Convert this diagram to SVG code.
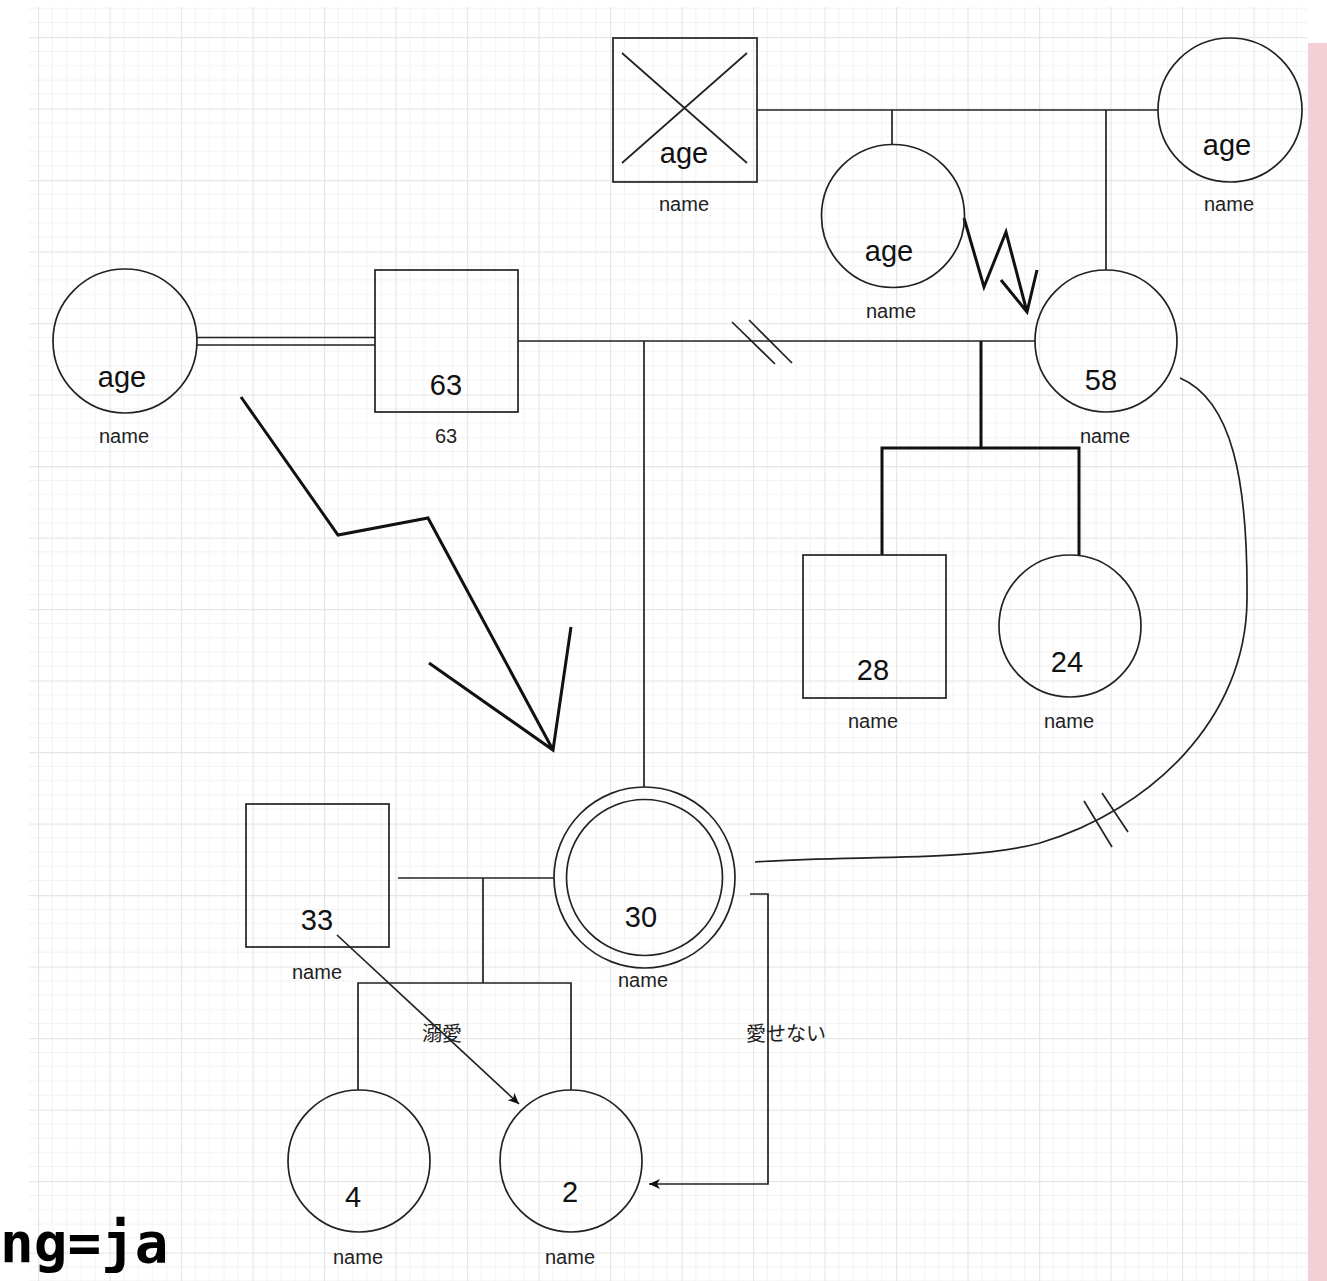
<svg xmlns="http://www.w3.org/2000/svg" width="1327" height="1281" viewBox="0 0 1327 1281">
<style>
.n{fill:none;stroke:#222;stroke-width:1.7}
.c{fill:none;stroke:#222;stroke-width:1.7}
.thick{fill:none;stroke:#111;stroke-width:3}
.big{font-family:"Liberation Sans",Arial,sans-serif;font-size:29px;fill:#111;text-anchor:middle}
.lbl{font-family:"Liberation Sans",Arial,sans-serif;font-size:20px;fill:#222;text-anchor:middle}
.jp{font-family:"Noto Sans CJK JP","Noto Sans",sans-serif;font-size:20px;fill:#222;text-anchor:middle}
</style>
<defs>
<pattern id="grid" x="38" y="37" width="71.5" height="71.5" patternUnits="userSpaceOnUse">
<path d="M14.3 0V71.5M28.6 0V71.5M42.9 0V71.5M57.2 0V71.5M0 14.3H71.5M0 28.6H71.5M0 42.9H71.5M0 57.2H71.5" stroke="#f2f2f2" stroke-width="1" fill="none"/>
<path d="M0.5 0V71.5M0 0.5H71.5" stroke="#e6e6e6" stroke-width="1.4" fill="none"/>
</pattern>
<marker id="arr" viewBox="0 0 12 12" refX="11" refY="6" markerWidth="12" markerHeight="12" markerUnits="userSpaceOnUse" orient="auto">
<path d="M0,1 L11,6 L0,11 L3,6 Z" fill="#111"/>
</marker>
</defs>
<rect x="0" y="0" width="1327" height="1281" fill="#ffffff"/>
<rect x="29" y="7" width="1279" height="1274" fill="url(#grid)"/>
<rect x="1308" y="43" width="19" height="1238" fill="#f3d0d6"/>

<g id="connectors">
<path class="c" d="M757,110 H1158"/>
<path class="c" d="M892,110 V145"/>
<path class="c" d="M1106,110 V270"/>
<path class="c" d="M197,337.5 H375 M197,345 H375"/>
<path class="c" d="M518,341 H1035"/>
<path class="c" d="M732,322 L775,364 M749,320 L792,363"/>
<path class="c" d="M644,341 V787"/>
<path class="thick" d="M981,341 V448 M882,555 V448 H1079 V555"/>
<path class="c" d="M1180,378 C1232,400 1248,480 1247,600 C1246,720 1150,810 1040,843 C970,862 850,855 755,862"/>
<path class="c" d="M1084,801 L1112,847 M1102,793 L1128,832"/>
<path class="thick" d="M964,218 L984,287 L1006,232 L1027,312 M1001,280 L1027,312 L1037,270"/>
<path class="thick" d="M241,397 L338,535 L428,518 L553,750 M429,663 L553,750 L571,627"/>
<path class="c" d="M398,878 H554"/>
<path class="c" d="M483,878 V983 M358,1090 V983 H571 V1090"/>
<path class="c" d="M337,935 L519,1104" marker-end="url(#arr)"/>
<path class="c" d="M750,894 H768 V1184 H649" marker-end="url(#arr)"/>
<text class="jp" x="442" y="1041">溺愛</text>
<text class="jp" x="786" y="1041">愛せない</text>
</g>

<g id="node-grandfather">
<rect class="n" x="613" y="38" width="144" height="144"/>
<path class="n" d="M622,53 L747,163 M747,53 L622,163"/>
<text class="big" x="684" y="163">age</text>
<text class="lbl" x="684" y="211">name</text>
</g>
<g id="node-grandmother-b">
<circle class="n" cx="893" cy="216" r="71.5"/>
<text class="big" x="889" y="261">age</text>
<text class="lbl" x="891" y="318">name</text>
</g>
<g id="node-grandmother-c">
<circle class="n" cx="1230" cy="110" r="72"/>
<text class="big" x="1227" y="155">age</text>
<text class="lbl" x="1229" y="211">name</text>
</g>
<g id="node-left-wife">
<circle class="n" cx="125" cy="341" r="72"/>
<text class="big" x="122" y="387">age</text>
<text class="lbl" x="124" y="443">name</text>
</g>
<g id="node-63">
<rect class="n" x="375" y="270" width="143" height="142"/>
<text class="big" x="446" y="395">63</text>
<text class="lbl" x="446" y="443">63</text>
</g>
<g id="node-58">
<circle class="n" cx="1106" cy="341" r="71"/>
<text class="big" x="1101" y="390">58</text>
<text class="lbl" x="1105" y="443">name</text>
</g>
<g id="node-28">
<rect class="n" x="803" y="555" width="143" height="143"/>
<text class="big" x="873" y="680">28</text>
<text class="lbl" x="873" y="728">name</text>
</g>
<g id="node-24">
<circle class="n" cx="1070" cy="626" r="71"/>
<text class="big" x="1067" y="672">24</text>
<text class="lbl" x="1069" y="728">name</text>
</g>
<g id="node-33">
<rect class="n" x="246" y="804" width="143" height="143"/>
<text class="big" x="317" y="930">33</text>
<text class="lbl" x="317" y="979">name</text>
</g>
<g id="node-30">
<circle class="n" cx="644.5" cy="877.5" r="90.5"/>
<circle class="n" cx="644.5" cy="877.5" r="78"/>
<text class="big" x="641" y="927">30</text>
<text class="lbl" x="643" y="987">name</text>
</g>
<g id="node-4">
<circle class="n" cx="359" cy="1161" r="71"/>
<text class="big" x="353" y="1207">4</text>
<text class="lbl" x="358" y="1264">name</text>
</g>
<g id="node-2">
<circle class="n" cx="571" cy="1161" r="71"/>
<text class="big" x="570" y="1202">2</text>
<text class="lbl" x="570" y="1264">name</text>
</g>
<text x="0" y="1262" font-family="DejaVu Sans Mono,monospace" font-weight="bold" font-size="56" fill="#000">ng=ja</text>
</svg>
